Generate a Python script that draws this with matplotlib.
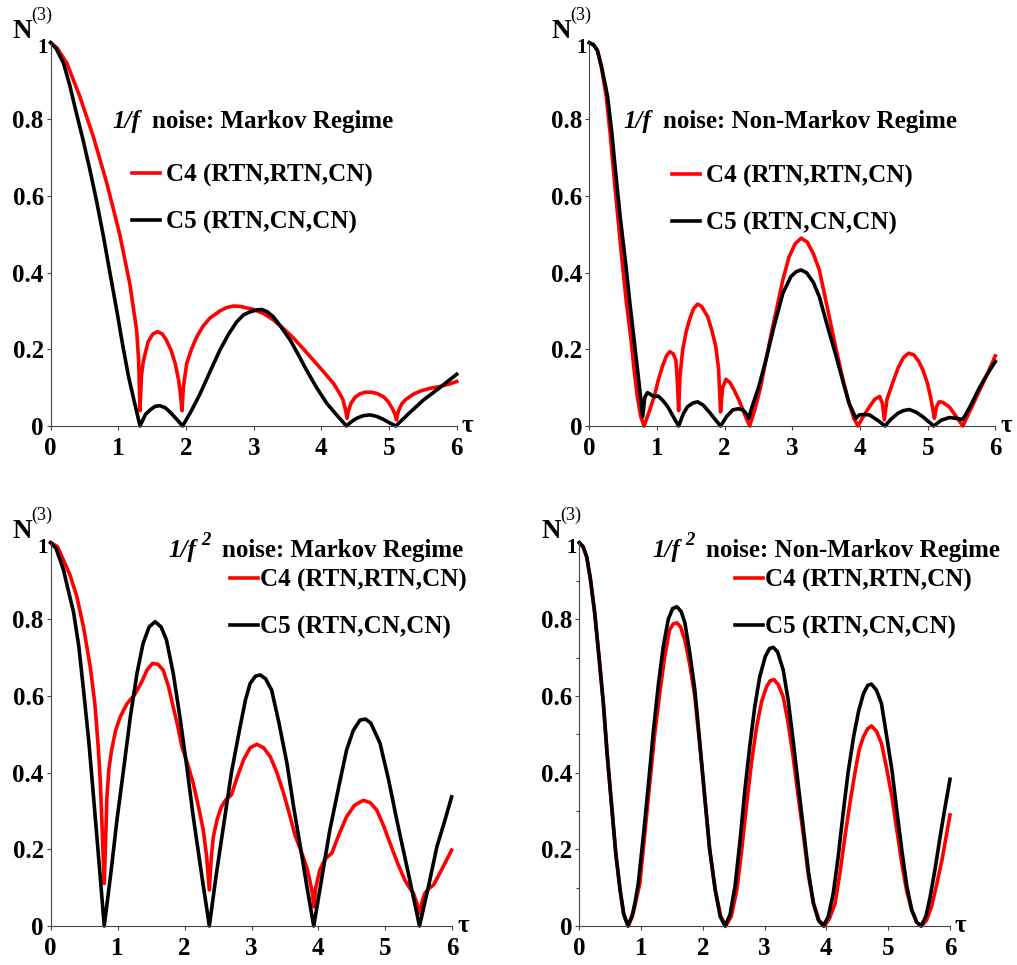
import matplotlib
matplotlib.use('Agg')
import matplotlib.pyplot as plt
from matplotlib.ticker import FixedLocator

plt.rcParams['font.family'] = ['Liberation Serif', 'DejaVu Serif']
plt.rcParams['font.weight'] = 'bold'

# ---- data ----
# top left: 1/f noise, Markov regime
tau_a4 = [0, 0.1, 0.24, 0.43, 0.63, 0.83, 1.02, 1.17, 1.27, 1.30, 1.32, 1.34, 1.37, 1.44, 1.51,
          1.58, 1.65, 1.71, 1.78, 1.84, 1.89, 1.92, 1.94, 1.96, 2.01, 2.08, 2.16, 2.25, 2.35, 2.50,
          2.60, 2.70, 2.80, 2.90, 3.0, 3.15, 3.29, 3.44, 3.59, 3.74, 3.88, 4.03, 4.18, 4.27, 4.32,
          4.36, 4.38, 4.40, 4.44, 4.50, 4.57, 4.65, 4.74, 4.82, 4.92, 4.99, 5.05, 5.09, 5.11, 5.14,
          5.19, 5.24, 5.35, 5.46, 5.60, 5.75, 5.88, 6.0]
n_a4 = [1, 0.985, 0.946, 0.86, 0.755, 0.633, 0.50, 0.37, 0.25, 0.17, 0.04, 0.13, 0.17, 0.22, 0.24,
        0.246, 0.24, 0.224, 0.197, 0.163, 0.12, 0.08, 0.04, 0.10, 0.163, 0.20, 0.233, 0.26, 0.281, 0.30,
        0.309, 0.313, 0.312, 0.308, 0.304, 0.293, 0.277, 0.254, 0.229, 0.20, 0.172, 0.142, 0.111, 0.085, 0.068,
        0.04, 0.02, 0.04, 0.06, 0.075, 0.084, 0.088, 0.088, 0.085, 0.076, 0.063, 0.045, 0.03, 0.016, 0.04,
        0.058, 0.068, 0.082, 0.091, 0.098, 0.103, 0.109, 0.116]
tau_a5 = [0, 0.08, 0.19, 0.28, 0.38, 0.48, 0.58, 0.68, 0.78, 0.875, 0.975, 1.06, 1.15, 1.24, 1.32,
          1.40, 1.47, 1.54, 1.61, 1.69, 1.76, 1.86, 1.95, 2.08, 2.21, 2.35, 2.50, 2.63, 2.75, 2.85,
          2.95, 3.05, 3.12, 3.20, 3.29, 3.41, 3.54, 3.66, 3.78, 3.93, 4.08, 4.22, 4.37, 4.45, 4.52,
          4.62, 4.72, 4.82, 4.92, 5.01, 5.10, 5.30, 5.51, 5.75, 6.0]
n_a5 = [1, 0.985, 0.946, 0.89, 0.816, 0.745, 0.668, 0.585, 0.494, 0.40, 0.303, 0.215, 0.129, 0.06, 0,
        0.03, 0.042, 0.051, 0.053, 0.048, 0.037, 0.018, 0, 0.04, 0.085, 0.14, 0.198, 0.24, 0.272, 0.29,
        0.298, 0.303, 0.304, 0.298, 0.285, 0.257, 0.224, 0.186, 0.146, 0.10, 0.059, 0.03, 0, 0.012, 0.02,
        0.027, 0.029, 0.025, 0.017, 0.008, 0, 0.034, 0.068, 0.10, 0.135]

# top right: 1/f noise, non-Markov regime
tau_b4 = [0, 0.06, 0.12, 0.18, 0.25, 0.31, 0.37, 0.43, 0.49, 0.55, 0.62, 0.66, 0.71, 0.76, 0.81,
          0.88, 0.96, 1.02, 1.08, 1.14, 1.19, 1.24, 1.28, 1.30, 1.32, 1.34, 1.38, 1.43, 1.48, 1.54,
          1.60, 1.66, 1.75, 1.81, 1.87, 1.91, 1.94, 1.97, 2.02, 2.08, 2.14, 2.21, 2.27, 2.32, 2.37,
          2.45, 2.53, 2.61, 2.70, 2.78, 2.86, 2.95, 3.04, 3.13, 3.22, 3.31, 3.40, 3.48, 3.57, 3.65,
          3.75, 3.84, 3.91, 3.97, 4.05, 4.14, 4.22, 4.29, 4.33, 4.36, 4.40, 4.48, 4.56, 4.64, 4.72,
          4.80, 4.87, 4.93, 5.00, 5.05, 5.08, 5.10, 5.13, 5.17, 5.22, 5.32, 5.42, 5.52, 5.64, 5.76,
          5.88, 6.0]
n_b4 = [1, 0.995, 0.98, 0.935, 0.86, 0.76, 0.64, 0.53, 0.42, 0.32, 0.22, 0.15, 0.077, 0.025, 0,
        0.035, 0.077, 0.12, 0.155, 0.183, 0.194, 0.188, 0.172, 0.12, 0.04, 0.13, 0.198, 0.245, 0.277, 0.306,
        0.318, 0.312, 0.285, 0.25, 0.207, 0.15, 0.037, 0.10, 0.122, 0.113, 0.094, 0.068, 0.042, 0.02, 0,
        0.045, 0.10, 0.172, 0.25, 0.315, 0.381, 0.44, 0.475, 0.49, 0.48, 0.45, 0.407, 0.34, 0.265, 0.198,
        0.12, 0.059, 0.02, 0, 0.025, 0.05, 0.07, 0.077, 0.06, 0.016, 0.07, 0.111, 0.15, 0.178, 0.19,
        0.185, 0.168, 0.146, 0.11, 0.07, 0.04, 0.02, 0.05, 0.063, 0.062, 0.05, 0.025, 0, 0.045, 0.09,
        0.135, 0.183]
tau_b5 = [0, 0.06, 0.12, 0.19, 0.27, 0.33, 0.39, 0.46, 0.54, 0.60, 0.665, 0.73, 0.79, 0.82, 0.86,
          0.90, 0.95, 1.02, 1.09, 1.16, 1.24, 1.32, 1.39, 1.45, 1.53, 1.60, 1.68, 1.77, 1.86, 1.94,
          2.03, 2.12, 2.20, 2.27, 2.33, 2.36, 2.39, 2.50, 2.61, 2.73, 2.86, 2.98, 3.06, 3.13, 3.21,
          3.31, 3.40, 3.52, 3.65, 3.75, 3.84, 3.94, 3.99, 4.06, 4.14, 4.26, 4.37, 4.46, 4.56, 4.64,
          4.73, 4.83, 4.93, 5.01, 5.09, 5.20, 5.32, 5.42, 5.52, 5.64, 5.76, 5.88, 6.0]
n_b5 = [1, 0.995, 0.98, 0.93, 0.86, 0.77, 0.66, 0.54, 0.42, 0.32, 0.22, 0.12, 0.024, 0.075, 0.087,
        0.083, 0.077, 0.078, 0.066, 0.05, 0.025, 0, 0.032, 0.05, 0.06, 0.063, 0.055, 0.037, 0.017, 0,
        0.025, 0.042, 0.045, 0.042, 0.03, 0.02, 0.042, 0.10, 0.172, 0.26, 0.346, 0.39, 0.403, 0.407, 0.40,
        0.375, 0.337, 0.26, 0.181, 0.115, 0.059, 0.02, 0.029, 0.03, 0.029, 0.015, 0, 0.018, 0.033, 0.04,
        0.043, 0.036, 0.024, 0.012, 0, 0.015, 0.022, 0.02, 0.017, 0.055, 0.098, 0.135, 0.168]

# bottom left: 1/f^2 noise, Markov regime
tau_c4 = [0, 0.1, 0.19, 0.29, 0.39, 0.49, 0.59, 0.66, 0.71, 0.74, 0.76, 0.78, 0.80, 0.82, 0.84,
          0.87, 0.91, 0.97, 1.04, 1.14, 1.26, 1.36, 1.44, 1.52, 1.60, 1.68, 1.76, 1.83, 1.90, 1.96,
          2.05, 2.13, 2.21, 2.28, 2.33, 2.37, 2.40, 2.43, 2.49, 2.55, 2.62, 2.70, 2.79, 2.88, 2.98,
          3.08, 3.18, 3.28, 3.38, 3.48, 3.57, 3.65, 3.72, 3.77, 3.83, 3.87, 3.91, 3.93, 3.96, 4.02,
          4.10, 4.20, 4.31, 4.42, 4.54, 4.67, 4.77, 4.87, 4.97, 5.07, 5.18, 5.29, 5.36, 5.42, 5.47,
          5.51, 5.55, 5.59, 5.65, 5.72, 5.85, 5.99]
n_c4 = [1, 0.99, 0.955, 0.915, 0.86, 0.78, 0.677, 0.58, 0.468, 0.38, 0.294, 0.2, 0.111, 0.22, 0.337,
        0.41, 0.459, 0.51, 0.546, 0.58, 0.605, 0.637, 0.668, 0.685, 0.683, 0.668, 0.625, 0.572, 0.52, 0.468,
        0.42, 0.372, 0.31, 0.25, 0.18, 0.094, 0.18, 0.233, 0.28, 0.311, 0.33, 0.342, 0.39, 0.433, 0.465,
        0.474, 0.465, 0.442, 0.40, 0.346, 0.29, 0.237, 0.205, 0.181, 0.15, 0.12, 0.085, 0.05, 0.10, 0.146,
        0.175, 0.19, 0.24, 0.285, 0.315, 0.328, 0.322, 0.303, 0.263, 0.216, 0.165, 0.12, 0.10, 0.085, 0.06,
        0.033, 0.065, 0.085, 0.098, 0.107, 0.15, 0.198]
tau_c5 = [0, 0.08, 0.19, 0.27, 0.34, 0.42, 0.49, 0.57, 0.64, 0.72, 0.80, 0.90, 0.99, 1.09, 1.19,
          1.29, 1.38, 1.47, 1.56, 1.65, 1.73, 1.83, 1.93, 2.03, 2.13, 2.25, 2.37, 2.47, 2.58, 2.70,
          2.83, 2.91, 2.98, 3.06, 3.13, 3.21, 3.30, 3.41, 3.53, 3.63, 3.73, 3.83, 3.93, 4.05, 4.17,
          4.30, 4.42, 4.52, 4.62, 4.70, 4.78, 4.86, 4.92, 5.05, 5.17, 5.34, 5.51, 5.64, 5.77, 5.88, 5.99]
n_c5 = [1, 0.985, 0.93, 0.87, 0.82, 0.73, 0.616, 0.48, 0.337, 0.17, 0, 0.14, 0.277, 0.41, 0.546,
        0.66, 0.737, 0.78, 0.794, 0.78, 0.746, 0.66, 0.546, 0.42, 0.285, 0.14, 0, 0.13, 0.259, 0.40,
        0.52, 0.59, 0.633, 0.652, 0.655, 0.645, 0.616, 0.53, 0.424, 0.31, 0.207, 0.10, 0, 0.125, 0.25,
        0.36, 0.459, 0.51, 0.537, 0.54, 0.53, 0.50, 0.477, 0.38, 0.277, 0.14, 0, 0.10, 0.207, 0.27, 0.337]

# bottom right: 1/f^2 noise, non-Markov regime
tau_d4 = [0, 0.06, 0.12, 0.18, 0.25, 0.32, 0.39, 0.45, 0.52, 0.59, 0.66, 0.72, 0.79, 0.86, 0.91,
          0.98, 1.06, 1.14, 1.22, 1.31, 1.38, 1.46, 1.52, 1.58, 1.64, 1.71, 1.79, 1.87, 1.95, 2.03,
          2.11, 2.20, 2.29, 2.37, 2.46, 2.55, 2.63, 2.71, 2.79, 2.87, 2.95, 3.03, 3.09, 3.15, 3.22,
          3.30, 3.38, 3.46, 3.55, 3.63, 3.71, 3.79, 3.88, 3.97, 4.05, 4.14, 4.22, 4.30, 4.38, 4.46,
          4.53, 4.60, 4.67, 4.73, 4.81, 4.89, 4.97, 5.06, 5.14, 5.22, 5.30, 5.38, 5.46, 5.54, 5.62,
          5.70, 5.78, 5.87, 5.94, 6.0]
n_d4 = [1, 0.99, 0.963, 0.905, 0.816, 0.70, 0.58, 0.45, 0.32, 0.19, 0.094, 0.03, 0, 0.025, 0.06,
        0.111, 0.24, 0.372, 0.50, 0.616, 0.70, 0.772, 0.788, 0.791, 0.78, 0.745, 0.68, 0.598, 0.47, 0.337,
        0.2, 0.094, 0.025, 0, 0.025, 0.094, 0.2, 0.32, 0.43, 0.52, 0.585, 0.624, 0.64, 0.643, 0.63,
        0.598, 0.53, 0.442, 0.33, 0.233, 0.13, 0.059, 0.015, 0, 0.02, 0.059, 0.14, 0.233, 0.32, 0.398,
        0.46, 0.494, 0.515, 0.522, 0.508, 0.477, 0.415, 0.337, 0.25, 0.163, 0.09, 0.042, 0.01, 0, 0.015,
        0.05, 0.105, 0.172, 0.235, 0.29]
tau_d5 = [0, 0.06, 0.12, 0.18, 0.25, 0.32, 0.39, 0.45, 0.52, 0.59, 0.66, 0.72, 0.79, 0.86, 0.90,
          0.955, 1.04, 1.12, 1.20, 1.28, 1.36, 1.44, 1.51, 1.58, 1.65, 1.71, 1.79, 1.87, 1.95, 2.03,
          2.11, 2.20, 2.28, 2.36, 2.44, 2.52, 2.60, 2.68, 2.76, 2.84, 2.92, 3.01, 3.08, 3.14, 3.21,
          3.30, 3.38, 3.46, 3.55, 3.63, 3.71, 3.79, 3.87, 3.95, 4.03, 4.11, 4.19, 4.27, 4.35, 4.44,
          4.52, 4.60, 4.67, 4.73, 4.81, 4.89, 4.97, 5.06, 5.14, 5.22, 5.30, 5.38, 5.46, 5.53, 5.61,
          5.68, 5.76, 5.84, 5.92, 6.0]
n_d5 = [1, 0.99, 0.963, 0.905, 0.816, 0.70, 0.58, 0.45, 0.32, 0.19, 0.094, 0.03, 0, 0.03, 0.06,
        0.111, 0.24, 0.372, 0.51, 0.63, 0.73, 0.80, 0.828, 0.833, 0.82, 0.79, 0.71, 0.616, 0.48, 0.337,
        0.2, 0.094, 0.025, 0, 0.03, 0.103, 0.22, 0.355, 0.47, 0.572, 0.65, 0.703, 0.724, 0.727, 0.715,
        0.668, 0.59, 0.485, 0.36, 0.25, 0.14, 0.059, 0.015, 0, 0.025, 0.085, 0.18, 0.294, 0.40, 0.494,
        0.56, 0.607, 0.628, 0.631, 0.615, 0.581, 0.50, 0.407, 0.30, 0.198, 0.105, 0.042, 0.01, 0, 0.025,
        0.077, 0.15, 0.233, 0.31, 0.383]

regimes = ['Markov Regime', 'Non-Markov Regime', 'Markov Regime', 'Non-Markov Regime']
powers = ['', '', '2', '2']
labels = ['C4 (RTN,RTN,CN)', 'C5 (RTN,CN,CN)']
x_ticks = [0, 1, 2, 3, 4, 5, 6]
y_ticks = [0, 0.2, 0.4, 0.6, 0.8]
y_ticklabels = ['0', '0.2', '0.4', '0.6', '0.8']

W, H = 1017, 965
fig = plt.figure(figsize=(W / 100, H / 100), dpi=100)

def px_axes(x0, x1, y0, y1):
    # pixel box (x of tau=0, x of tau=6, y of N=1, y of N=0)
    return fig.add_axes([x0 / W, 1 - y1 / H, (x1 - x0) / W, (y1 - y0) / H])

panels = [
    (px_axes(50.7, 456.7, 42.7, 426), (tau_a4, n_a4), (tau_a5, n_a5), (0.151, 0.777), (0.200, 0.592), 0.25, False),
    (px_axes(589.3, 995.3, 42.7, 426), (tau_b4, n_b4), (tau_b5, n_b5), (0.083, 0.777), (0.204, 0.590), 0.25, False),
    (px_axes(50.7, 452.3, 542.7, 926), (tau_c4, n_c4), (tau_c5, n_c5), (0.292, 0.963), (0.446, 0.840), 0.1, False),
    (px_axes(579.3, 950.0, 542.7, 926), (tau_d4, n_d4), (tau_d5, n_d5), (0.196, 0.963), (0.420, 0.840), 0.1, True),
]

FS = 18
for i, (ax, c4, c5, tpos, lpos, tpad, minor) in enumerate(panels):
    l4, = ax.plot(c4[0], c4[1], color='#ff0000', lw=2.6, clip_on=False, solid_joinstyle='round')
    l5, = ax.plot(c5[0], c5[1], color='#000000', lw=2.6, clip_on=False, solid_joinstyle='round')
    ax.set_xlim(0, 6)
    ax.set_ylim(0, 1)
    for s in ['top', 'right']:
        ax.spines[s].set_visible(False)
    for s in ['left', 'bottom']:
        ax.spines[s].set_linewidth(0.8)
        ax.spines[s].set_color('#444444')
    ax.set_xticks(x_ticks)
    ax.set_xticklabels([str(t) for t in x_ticks])
    ax.set_yticks(y_ticks)
    ax.set_yticklabels(y_ticklabels)
    if minor:
        ax.yaxis.set_minor_locator(FixedLocator([0.1, 0.3, 0.5, 0.7, 0.9]))
        ax.tick_params(axis='y', which='minor', length=2.5, width=0.8, color='#444444')
    ax.tick_params(axis='both', which='major', length=3, width=0.8, color='#444444', labelsize=18)
    ax.tick_params(axis='x', pad=5)
    ax.tick_params(axis='y', pad=2)
    ax.patch.set_visible(False)

    # panel title: italic 1/f, optional exponent, then bold text
    t1 = ax.text(tpos[0], tpos[1], '1/f', transform=ax.transAxes, fontsize=FS,
                 style='italic', fontweight='bold', ha='left', va='baseline')
    if powers[i]:
        tp = ax.annotate(powers[i], xy=(1, 1), xycoords=t1, xytext=(5, 7),
                         textcoords='offset pixels', fontsize=13.5, fontweight='bold',
                         style='italic', ha='left', va='top')
        ax.annotate('noise: ' + regimes[i], xy=(1, 0), xycoords=(tp, t1), xytext=(12, 0),
                    textcoords='offset pixels', fontsize=FS, fontweight='bold',
                    ha='left', va='bottom')
    else:
        ax.annotate('noise: ' + regimes[i], xy=(1, 0), xycoords=t1, xytext=(12, 0),
                    textcoords='offset pixels', fontsize=FS, fontweight='bold',
                    ha='left', va='bottom')

    ax.legend([l4, l5], labels, loc='center left', bbox_to_anchor=lpos, frameon=False,
              fontsize=FS, handlelength=1.12, handletextpad=tpad, labelspacing=0.95,
              borderpad=0, borderaxespad=0)

    # y label N_1^(3)
    ax.annotate('N', xy=(0, 1), xycoords='axes fraction', xytext=(-38, 5),
                textcoords='offset pixels', fontsize=19.5, fontweight='bold', ha='left', va='baseline')
    ax.annotate('1', xy=(0, 1), xycoords='axes fraction', xytext=(-13, -10),
                textcoords='offset pixels', fontsize=15, fontweight='bold', ha='left', va='baseline',
                zorder=5)
    ax.annotate('(3)', xy=(0, 1), xycoords='axes fraction', xytext=(-19, 23),
                textcoords='offset pixels', fontsize=13, fontweight='normal', ha='left', va='baseline')
    ax.text(1.012, 0, 'τ', transform=ax.get_yaxis_transform(), fontsize=18,
            fontweight='bold', ha='left', va='center')

fig.savefig('out.png', dpi=100)
